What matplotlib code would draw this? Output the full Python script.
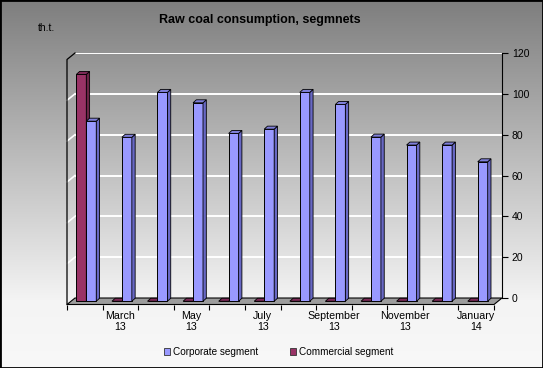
import numpy as np
import matplotlib
matplotlib.use("Agg")
import matplotlib.pyplot as plt
from matplotlib.patches import Polygon, Patch, Rectangle

plt.rcParams["font.family"] = ["Liberation Sans", "DejaVu Sans"]

months = ["February\n13", "March\n13", "April\n13", "May\n13", "June\n13", "July\n13",
          "August\n13", "September\n13", "October\n13", "November\n13", "December\n13", "January\n14"]
corporate = [88.2, 80.3, 102.3, 97.2, 82.2, 84.3, 102.3, 96.4, 80.4, 76.5, 76.5, 68.3]
commercial = [111.1, 0, 0, 0, 0, 0, 0, 0, 0, 0, 0, 0]
y_ticks = [0, 20, 40, 60, 80, 100, 120]

W, H = 543, 368
L, T, R, B = 75, 53, 502, 298      # back wall in pixels
DX, DY = 8, 6.5                    # depth of the floor (pixels)
n = len(months)
ppx = (R - L) / n
ppy = (B - T) / 120.0


def box(l, t, r, b):
    return [l / W, 1 - b / H, (r - l) / W, (b - t) / H]


fig = plt.figure(figsize=(5.43, 3.68), dpi=100)

# background gradient
bg = fig.add_axes([0, 0, 1, 1], zorder=-5)
yy = np.arange(H)
val = np.where(yy < 300, 126 + (244 - 126) * yy / 300.0, 244 + 4 * (yy - 300) / 68.0) / 255.0
grad = np.repeat(val[:, None], 10, axis=1)
bg.imshow(np.dstack([grad, grad, grad]), aspect="auto", extent=[0, 1, 0, 1])
bg.set_axis_off()
fig.patches.append(Rectangle((0, 0), 1, 1, transform=fig.transFigure, fill=False,
                             ec="black", lw=2))

# back wall: gridlines and value axis
ax = fig.add_axes(box(L, T, R, B))
ax.set_facecolor("none")
ax.set_xlim(-0.5, n - 0.5)
ax.set_ylim(0, 120)
ax.set_yticks(y_ticks)
ax.yaxis.tick_right()
ax.set_xticks([])
ax.grid(axis="y", color="white", lw=1.4)
for s in ["left", "top", "bottom"]:
    ax.spines[s].set_visible(False)
ax.spines["right"].set_linewidth(0.8)
ax.tick_params(axis="y", direction="out", length=4, width=0.8, labelsize=7.5, pad=3)

# mid plane: floor, left wall, bars
axm = fig.add_axes(box(L - DX / 2, T + DY / 2, R - DX / 2, B + DY / 2))
axm.set_xlim(-0.5, n - 0.5)
axm.set_ylim(0, 120)
axm.set_axis_off()
hx, hy = DX / 2 / ppx, DY / 2 / ppy
x0, x1 = -0.5, n - 0.5
floor = Polygon([(x0 + hx, hy), (x1 + hx, hy), (x1 - hx, -hy), (x0 - hx, -hy)],
                closed=True, fc="#9c9c9c", ec="black", lw=0.8, clip_on=False, zorder=1)
axm.add_patch(floor)
for v in y_ticks[1:-1]:
    axm.plot([x0 + hx, x0 - hx], [v + hy, v - hy], color="white", lw=1.2, clip_on=False, zorder=1)
axm.plot([x0 - hx, x0 - hx, x0 + hx], [-hy, 120 - hy, 120 + hy], color="black", lw=0.9,
         clip_on=False, zorder=2)

bw = 0.28
bdx, bdy = 3.3 / ppx, 3.0 / ppy
x = np.arange(n)


def bars3d(xc, vals, front, side, top, z):
    axm.bar(xc, vals, width=bw, color=front, ec="black", lw=0.7, zorder=z, clip_on=False)
    for xi, v in zip(xc, vals):
        xl, xr = xi - bw / 2, xi + bw / 2
        axm.add_patch(Polygon([(xr, 0), (xr + bdx, bdy), (xr + bdx, v + bdy), (xr, v)],
                              fc=side, ec="black", lw=0.6, zorder=z, clip_on=False))
        axm.add_patch(Polygon([(xl, v), (xr, v), (xr + bdx, v + bdy), (xl + bdx, v + bdy)],
                              fc=top, ec="black", lw=0.6, zorder=z, clip_on=False))


bars3d(x - 0.21, commercial, "#993366", "#6b2447", "#7d2a57", 3)
bars3d(x + 0.07, corporate, "#9999ff", "#6868c4", "#7f7fd9", 4)

# front plane: category axis
axf = fig.add_axes(box(L - DX, T + DY, R - DX, B + DY))
axf.set_facecolor("none")
axf.set_xlim(-0.5, n - 0.5)
axf.set_ylim(0, 120)
for s in axf.spines.values():
    s.set_visible(False)
axf.set_yticks([])
axf.set_xticks(np.arange(-0.5, n, 1))
axf.set_xticklabels([])
axf.set_xticks(x, minor=True)
axf.set_xticklabels([m if i % 2 == 1 else "" for i, m in enumerate(months)], minor=True)
axf.tick_params(axis="x", which="major", direction="out", length=3.5, width=0.8)
axf.tick_params(axis="x", which="minor", length=0, labelsize=7.7, pad=4.5)

fig.text(260 / W, 1 - 20 / H, "Raw coal consumption, segmnets", ha="center", va="center",
         fontsize=9, fontweight="bold")
fig.text(37.5 / W, 1 - 28 / H, "th.t.", ha="left", va="center", fontsize=7.5)

handles = [Patch(fc="#9999ff", ec="#333333", lw=0.6, label="Corporate segment"),
           Patch(fc="#993366", ec="#333333", lw=0.6, label="Commercial segment")]
fig.legend(handles=handles, loc="center", bbox_to_anchor=(278.5 / W, 1 - 352 / H), ncol=2,
           frameon=False, fontsize=7.2, handlelength=0.65, handleheight=0.65,
           handletextpad=0.25, columnspacing=3.2)

fig.savefig("out.png", dpi=100)
